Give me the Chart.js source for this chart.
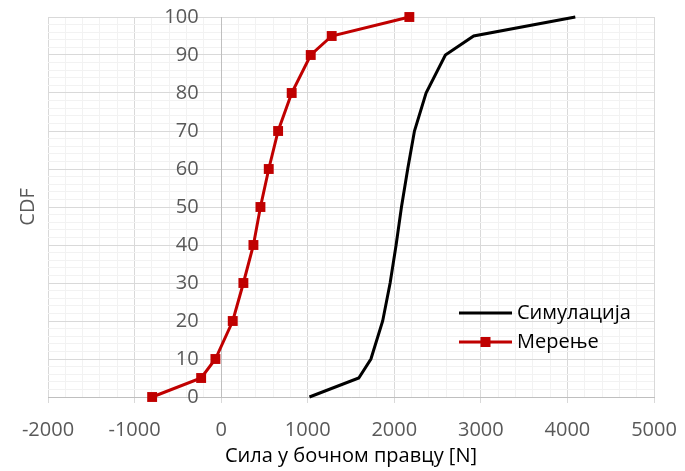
<!DOCTYPE html>
<html>
<head>
<meta charset="utf-8">
<script src="https://cdn.jsdelivr.net/npm/chart.js"></script>
<style>
  body { margin: 0; background: #fff; }
  #wrap { width: 685px; height: 471px; }
</style>
</head>
<body>
<div id="wrap"><canvas id="cdfChart" width="685" height="471"></canvas></div>
<script>
// CDF of lateral force: simulation vs measurement
const cdfLevels = [0, 5, 10, 20, 30, 40, 50, 60, 70, 80, 90, 95, 100];
const simForce = [1020, 1590, 1730, 1866, 1952, 2021, 2083, 2155, 2233, 2367, 2590, 2917, 4091];
const measForce = [-797, -231, -66, 134, 257, 373, 454, 550, 658, 815, 1035, 1277, 2174];
const seriesNames = ["Симулација", "Мерење"];
const xTitle = "Сила у бочном правцу [N]";
const yTitle = "CDF";

const majorGrid = "#d9d9d9";
const minorGrid = "#f2f2f2";
const axisLine = "#bfbfbf";
const tickText = "#595959";

Chart.defaults.font.family = "'Open Sans', sans-serif";
Chart.defaults.font.size = 20;
Chart.defaults.color = tickText;

function toPoints(xs, ys) {
  return xs.map((x, i) => ({ x: x, y: ys[i] }));
}

// legend drawn inside the plot, lower right
const innerLegend = {
  id: "innerLegend",
  afterDraw(chart) {
    const ctx = chart.ctx;
    const area = chart.chartArea;
    const x0 = area.left + 411;
    const x1 = x0 + 53;
    const rows = [area.top + 296, area.top + 325];
    ctx.save();
    chart.data.datasets.forEach((ds, i) => {
      const y = rows[i];
      ctx.strokeStyle = ds.borderColor;
      ctx.lineWidth = ds.borderWidth;
      ctx.beginPath();
      ctx.moveTo(x0, y);
      ctx.lineTo(x1, y);
      ctx.stroke();
      if (ds.pointRadius > 0) {
        ctx.fillStyle = ds.pointBackgroundColor;
        ctx.fillRect((x0 + x1) / 2 - 5, y - 5, 10, 10);
      }
      ctx.fillStyle = "#000";
      ctx.font = "20px 'Open Sans', sans-serif";
      ctx.textAlign = "left";
      ctx.textBaseline = "middle";
      ctx.fillText(ds.label, x1 + 5, y);
    });
    ctx.restore();
  }
};

const noPad = s => { s.paddingTop = 0; s.paddingBottom = 0; };

new Chart(document.getElementById("cdfChart"), {
  type: "line",
  data: {
    datasets: [
      {
        label: seriesNames[0],
        data: toPoints(simForce, cdfLevels),
        borderColor: "#000000",
        backgroundColor: "#000000",
        borderWidth: 3,
        pointRadius: 0,
        fill: false,
        clip: false,
        xAxisID: "x",
        yAxisID: "y"
      },
      {
        label: seriesNames[1],
        data: toPoints(measForce, cdfLevels),
        borderColor: "#c00000",
        backgroundColor: "#c00000",
        pointBackgroundColor: "#c00000",
        pointBorderColor: "#c00000",
        borderWidth: 3,
        pointStyle: "rect",
        pointRadius: 7,
        pointBorderWidth: 0,
        fill: false,
        clip: false,
        xAxisID: "x",
        yAxisID: "y"
      }
    ]
  },
  options: {
    responsive: false,
    animation: false,
    layout: { padding: { left: 16, right: 0, top: 17, bottom: 1 } },
    plugins: {
      legend: { display: false },
      tooltip: { enabled: false }
    },
    scales: {
      x: {
        type: "linear",
        position: "bottom",
        min: -2000,
        max: 5000,
        afterFit: s => { s.paddingLeft = 0; s.paddingRight = 31; },
        ticks: {
          stepSize: 200,
          autoSkip: false,
          maxRotation: 0,
          padding: 15,
          callback: v => (v % 1000 === 0 ? v : "")
        },
        grid: {
          color: c => (c.tick && c.tick.value % 1000 === 0 ? majorGrid : minorGrid),
          tickColor: c => (c.tick && c.tick.value % 1000 === 0 ? majorGrid : "rgba(0,0,0,0)"),
          tickLength: 6
        },
        border: { color: axisLine },
        title: {
          display: true,
          text: xTitle,
          color: "#000",
          padding: { top: -13, bottom: 2 }
        }
      },
      // value axis: labels sit just left of the x = 0 line
      y: {
        type: "linear",
        position: { x: -260 },
        min: 0,
        max: 100,
        afterFit: noPad,
        ticks: {
          stepSize: 2,
          autoSkip: false,
          callback: v => (v % 10 === 0 ? v : "")
        },
        grid: {
          color: c => (c.tick && c.tick.value % 10 === 0 ? majorGrid : minorGrid),
          drawTicks: false
        },
        border: { display: false }
      },
      // the vertical axis line itself, crossing at x = 0
      y0: {
        type: "linear",
        position: { x: 0 },
        min: 0,
        max: 100,
        afterFit: noPad,
        ticks: { display: false, stepSize: 10 },
        grid: { drawOnChartArea: false, color: majorGrid, tickLength: 8 },
        border: { color: axisLine }
      },
      yt: {
        type: "linear",
        position: "left",
        min: 0,
        max: 100,
        grid: { display: false },
        border: { display: false },
        ticks: { display: false },
        title: {
          display: true,
          text: yTitle,
          color: tickText,
          padding: { top: 0, bottom: 0 }
        }
      }
    }
  },
  plugins: [innerLegend]
});
</script>
</body>
</html>
